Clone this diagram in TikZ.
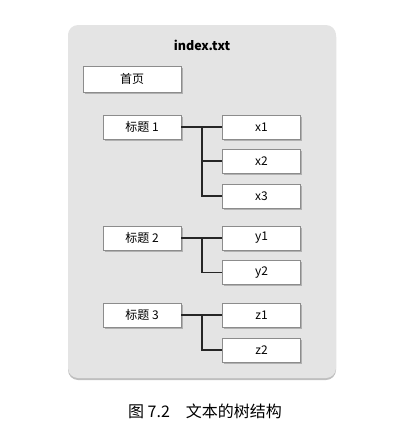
\documentclass[tikz,border=0pt]{standalone}
\usepackage{fontspec}
\setmainfont{Noto Sans CJK SC}
\usetikzlibrary{shadows}
\definecolor{panelgray}{HTML}{E4E4E4}
\definecolor{boxline}{HTML}{8C8C8C}
\begin{document}
\begin{tikzpicture}[x=1pt,y=-1pt,
    item/.style={draw=boxline, line width=0.8pt, fill=white,
      minimum width=78pt, minimum height=24pt, inner sep=0pt,
      font=\fontsize{12}{14}\selectfont,
      drop shadow={shadow xshift=1.5pt, shadow yshift=-1.5pt, opacity=0.5}},
    link/.style={line width=1.4pt, black!85}]
  \useasboundingbox (0,0) rectangle (400,431);

  % panel
  \fill[panelgray, rounded corners=10pt,
    drop shadow={shadow xshift=0pt, shadow yshift=-2pt, opacity=0.5}]
    (68,25) rectangle (336,378);
  \node[font=\fontsize{12.5}{14}\selectfont\bfseries] (title) at (202,45) {index.txt};

  \node[item, minimum width=98pt, minimum height=26pt] (home) at (132,79) {首页};

  % first branch
  \node[item] (h1) at (142,127) {标题 1};
  \node[item] (x1) at (261.5,127) {x1};
  \node[item] (x2) at (261.5,161) {x2};
  \node[item] (x3) at (261.5,196) {x3};
  \coordinate (t1) at (202,127);
  \draw[link] (h1.east) -- (x1.west);
  \draw[link] (t1) |- (x2.west);
  \draw[link] (t1) |- (x3.west);

  % second branch
  \node[item] (h2) at (142,238) {标题 2};
  \node[item] (y1) at (261.5,238) {y1};
  \node[item] (y2) at (261.5,272.5) {y2};
  \coordinate (t2) at (202,238);
  \draw[link] (h2.east) -- (y1.west);
  \draw[link] (t2) |- (y2.west);

  % third branch
  \node[item] (h3) at (142,315) {标题 3};
  \node[item] (z1) at (261.5,315) {z1};
  \node[item] (z2) at (261.5,350) {z2};
  \coordinate (t3) at (202,315);
  \draw[link] (h3.east) -- (z1.west);
  \draw[link] (t3) |- (z2.west);

  \node[font=\fontsize{16}{19}\selectfont] (caption) at (205,411) {图 7.2\quad 文本的树结构};
\end{tikzpicture}
\end{document}
